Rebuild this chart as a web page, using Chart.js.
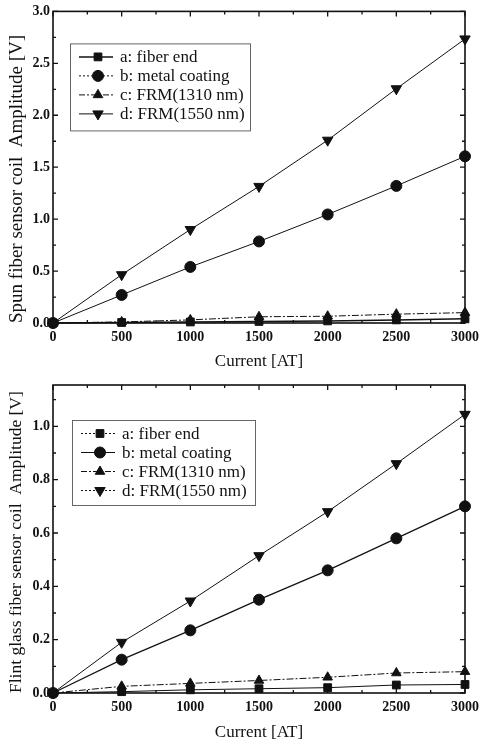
<!DOCTYPE html>
<html><head><meta charset="utf-8">
<script src="https://cdn.jsdelivr.net/npm/chart.js@4/dist/chart.umd.min.js"></script>
<style>
html,body{margin:0;padding:0;background:#fff;width:485px;height:744px;overflow:hidden;}
canvas{position:absolute;left:0;}
#c1{top:0;} #c2{top:370px;}
</style>
</head><body>
<canvas id="c1" width="485" height="370"></canvas>
<canvas id="c2" width="485" height="374"></canvas>
<script>
// ---- data ----
const currents = [0, 500, 1000, 1500, 2000, 2500, 3000];
const seriesNames = ['a: fiber end', 'b: metal coating', 'c: FRM(1310 nm)', 'd: FRM(1550 nm)'];
// Spun fiber sensor coil
const spunA = [0, 0.005, 0.01, 0.015, 0.02, 0.03, 0.04];
const spunB = [0, 0.27, 0.54, 0.785, 1.045, 1.32, 1.605];
const spunC = [0, 0.01, 0.03, 0.06, 0.065, 0.085, 0.10];
const spunD = [0, 0.465, 0.90, 1.315, 1.76, 2.255, 2.735];
// Flint glass fiber sensor coil
const flintA = [0, 0.005, 0.012, 0.016, 0.02, 0.03, 0.032];
const flintB = [0, 0.125, 0.235, 0.35, 0.46, 0.58, 0.70];
const flintC = [0, 0.025, 0.036, 0.047, 0.059, 0.075, 0.08];
const flintD = [0, 0.19, 0.345, 0.515, 0.68, 0.86, 1.045];
// ticks
const xTicks = [0, 500, 1000, 1500, 2000, 2500, 3000];
const xMinor = [250, 750, 1250, 1750, 2250, 2750];
const yTicks1 = [0, 0.5, 1.0, 1.5, 2.0, 2.5, 3.0];
const yMinor1 = [0.25, 0.75, 1.25, 1.75, 2.25, 2.75];
const yTicks2 = [0, 0.2, 0.4, 0.6, 0.8, 1.0];
const yMinor2 = [0.1, 0.3, 0.5, 0.7, 0.9, 1.1];

const FONT = "'Liberation Serif', 'Times New Roman', serif";
const INK = '#111';
const pointStyles = ['rect', 'circle', 'triangle', 'triangle'];
const rotations = [0, 0, 0, 180];
const radii = [5.5, 5.5, 5.5, 6];

function drawMarker(ctx, i, x, y) {
  const opts = {pointStyle: pointStyles[i], rotation: rotations[i], radius: radii[i], borderWidth: 1};
  ctx.fillStyle = INK; ctx.strokeStyle = INK; ctx.lineWidth = 1; ctx.setLineDash([]);
  if (Chart.helpers && Chart.helpers.drawPoint) {
    Chart.helpers.drawPoint(ctx, opts, x, y);
  } else {
    ctx.beginPath(); ctx.arc(x, y, radii[i], 0, Math.PI * 2); ctx.fill();
  }
}

const frameTicks = {
  id: 'frameTicks',
  beforeDatasetsDraw(chart, args, o) {
    const {ctx, chartArea: a, scales: {x, y}} = chart;
    ctx.save();
    ctx.strokeStyle = INK;
    ctx.lineWidth = 1.6;
    ctx.strokeRect(a.left, a.top, a.right - a.left, a.bottom - a.top);
    ctx.lineWidth = 1.3;
    const xt = (vals, len) => vals.forEach(v => {
      const p = x.getPixelForValue(v);
      ctx.beginPath(); ctx.moveTo(p, a.bottom); ctx.lineTo(p, a.bottom - len);
      ctx.moveTo(p, a.top); ctx.lineTo(p, a.top + len); ctx.stroke();
    });
    const yt = (vals, len) => vals.forEach(v => {
      const p = y.getPixelForValue(v);
      ctx.beginPath(); ctx.moveTo(a.left, p); ctx.lineTo(a.left + len, p);
      ctx.moveTo(a.right, p); ctx.lineTo(a.right - len, p); ctx.stroke();
    });
    xt(xTicks, 5); xt(xMinor, 3);
    yt(o.yMajor, 5); yt(o.yMinor, 3);
    ctx.restore();
  }
};

const innerLegend = {
  id: 'innerLegend',
  afterDatasetsDraw(chart, args, o) {
    const {ctx, chartArea: a} = chart;
    const bx = a.left + o.dx, by = a.top + o.dy;
    ctx.save();
    ctx.fillStyle = '#fff';
    ctx.fillRect(bx, by, o.w, o.h);
    ctx.strokeStyle = '#666'; ctx.lineWidth = 1;
    ctx.strokeRect(bx + 0.5, by + 0.5, o.w, o.h);
    chart.data.datasets.forEach((ds, i) => {
      const yy = by + 13.5 + i * 19;
      ctx.strokeStyle = INK; ctx.lineWidth = ds.borderWidth;
      ctx.setLineDash(o.dashes[i]);
      ctx.beginPath(); ctx.moveTo(bx + 9, yy); ctx.lineTo(bx + 43, yy); ctx.stroke();
      drawMarker(ctx, i, bx + 28, yy);
      ctx.setLineDash([]);
      ctx.fillStyle = INK;
      ctx.font = "17px " + FONT;
      ctx.textBaseline = 'middle'; ctx.textAlign = 'left';
      ctx.fillText(ds.label, bx + 50, yy + 1);
    });
    ctx.restore();
  }
};

function makeChart(id, cfg) {
  return new Chart(document.getElementById(id), {
    type: 'line',
    data: {
      datasets: cfg.series.map((vals, i) => ({
        label: seriesNames[i],
        data: currents.map((c, j) => ({x: c, y: vals[j]})),
        borderColor: INK, backgroundColor: INK,
        pointBackgroundColor: INK, pointBorderColor: INK, pointBorderWidth: 1,
        borderWidth: cfg.widths[i], borderDash: cfg.dashes[i],
        pointStyle: pointStyles[i], rotation: rotations[i], pointRadius: radii[i],
        tension: 0, fill: false, clip: false
      }))
    },
    options: {
      responsive: false, animation: false,
      layout: {padding: {left: 0, right: 15, top: cfg.top, bottom: 0}},
      plugins: {
        legend: {display: false}, tooltip: {enabled: false},
        frameTicks: {yMajor: cfg.yTicks, yMinor: cfg.yMinor},
        innerLegend: cfg.legend
      },
      scales: {
        x: {
          type: 'linear', min: 0, max: 3000,
          afterBuildTicks: s => { s.ticks = xTicks.map(v => ({value: v})); },
          afterFit: s => { s.height = cfg.xh; },
          grid: {display: false, drawTicks: false}, border: {display: false},
          ticks: {padding: 6, color: INK, font: {family: FONT, size: 14, weight: 'bold'}, callback: v => String(v), maxRotation: 0},
          title: {display: true, text: 'Current [AT]', color: INK, font: {family: FONT, size: 17, lineHeight: 1}, padding: {top: 0, bottom: cfg.xtb}}
        },
        y: {
          type: 'linear', min: 0, max: cfg.ymax,
          afterBuildTicks: s => { s.ticks = cfg.yTicks.map(v => ({value: v})); },
          afterFit: s => { s.width = 53; },
          grid: {display: false, drawTicks: false}, border: {display: false},
          ticks: {padding: 3, color: INK, font: {family: FONT, size: 14, weight: 'bold'}, callback: v => Number(v).toFixed(1)},
          title: {display: true, text: cfg.ytitle, align: 'start', color: INK, font: {family: FONT, size: cfg.ytsize, lineHeight: 1}, padding: {top: 8, bottom: 0}}
        }
      }
    },
    plugins: [frameTicks, innerLegend]
  });
}

makeChart('c1', {
  series: [spunA, spunB, spunC, spunD],
  widths: [1.5, 1, 1, 1],
  dashes: [[], [], [7, 2, 2, 2], []],
  top: 10, xh: 47, xtb: 0, ymax: 3.0,
  yTicks: yTicks1, yMinor: yMinor1,
  ytitle: 'Spun fiber sensor coil  Amplitude [V]', ytsize: 19,
  legend: {dx: 17, dy: 32, w: 180, h: 87, dashes: [[], [2, 2], [6, 2, 2, 2], []]}
});
makeChart('c2', {
  series: [flintA, flintB, flintC, flintD],
  widths: [1, 1.2, 1, 1],
  dashes: [[], [], [7, 2, 2, 2], []],
  top: 15, xh: 51, xtb: 3, ymax: 1.155,
  yTicks: yTicks2, yMinor: yMinor2,
  ytitle: 'Flint glass fiber sensor coil  Amplitude [V]', ytsize: 17.5,
  legend: {dx: 19, dy: 35, w: 183, h: 85, dashes: [[2, 2], [], [6, 2, 2, 2], [2, 2]]}
});
</script>
</body></html>
